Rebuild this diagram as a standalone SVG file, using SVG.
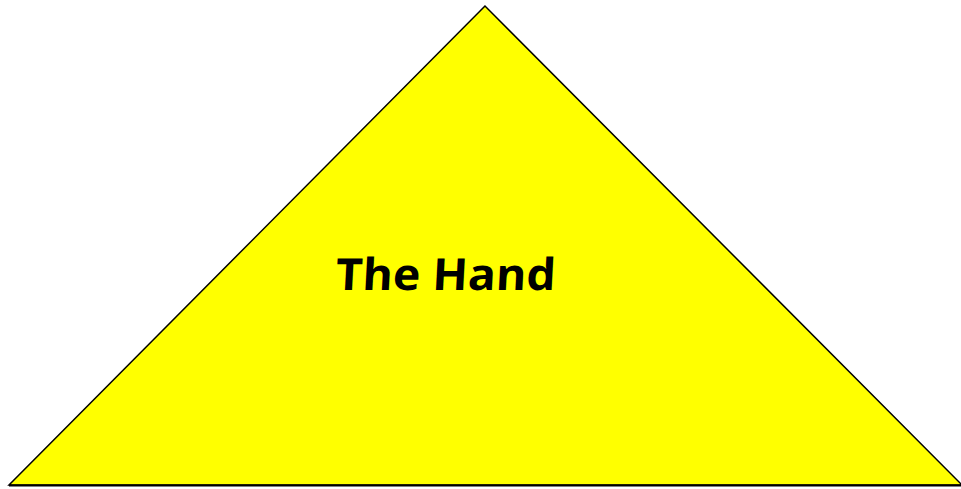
<svg xmlns="http://www.w3.org/2000/svg" width="961" height="489" viewBox="0 0 961 489">
<style>
.tri{fill:#ffff00;stroke:#000;stroke-width:1.5}
.lbl{font-family:"Open Sans","DejaVu Sans",sans-serif;font-weight:bold;font-size:44px;fill:#000}
</style>
<rect width="961" height="489" fill="#fff"/>
<g id="hand">
<polygon class="tri" points="485,6 9,485 962,485"/>
<line x1="9" y1="485.5" x2="961" y2="485.5" stroke="#000" stroke-width="2"/>
<text class="lbl" x="335" y="290" textLength="220" lengthAdjust="spacingAndGlyphs" transform="translate(0 290) skewX(-3) translate(0 -290)">The Hand</text>
</g>
</svg>
